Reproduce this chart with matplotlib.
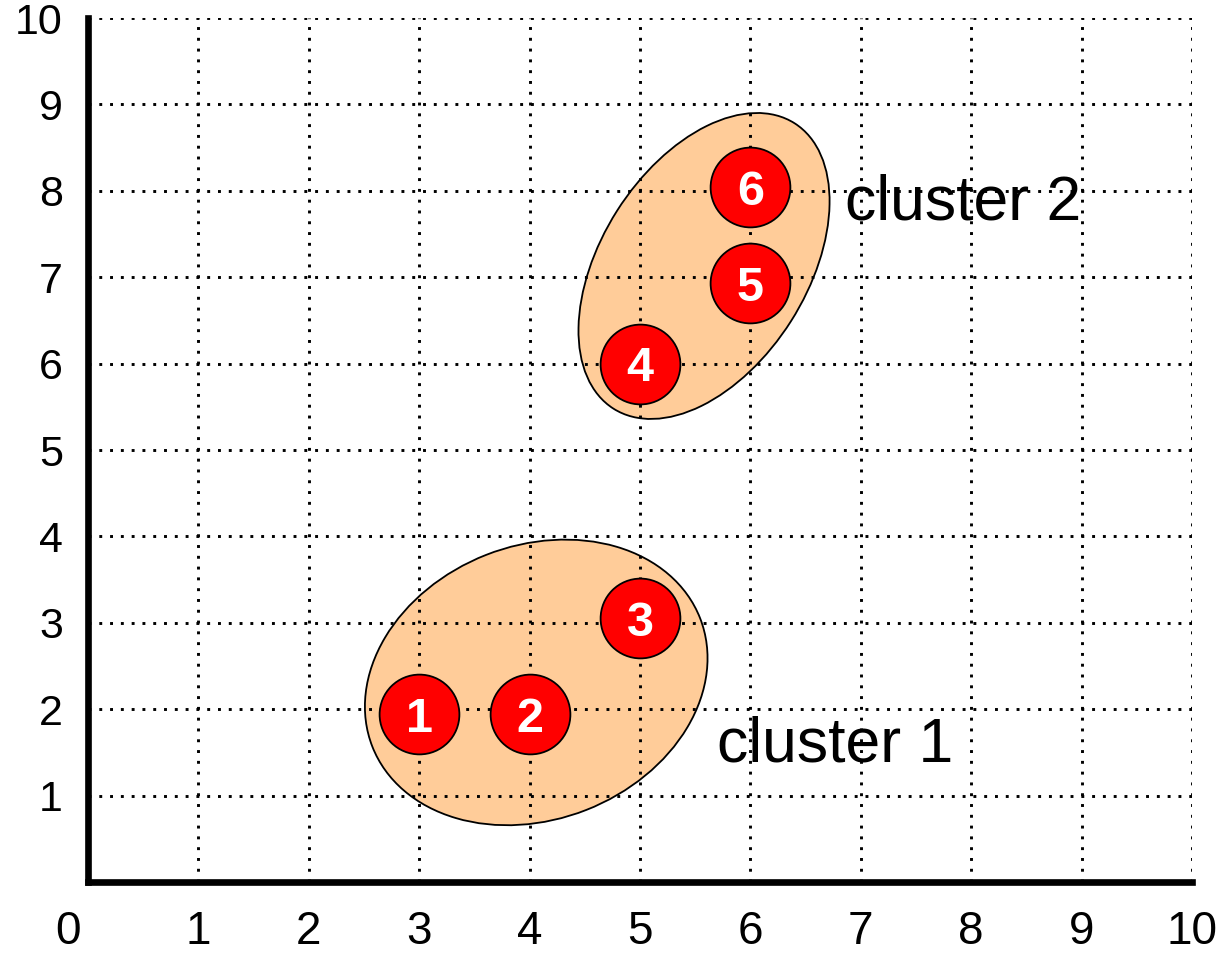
import matplotlib
matplotlib.use("Agg")
import matplotlib.pyplot as plt
from matplotlib.patches import Ellipse
from matplotlib.transforms import Affine2D, ScaledTranslation

plt.rcParams['font.family'] = ['Liberation Sans', 'DejaVu Sans']

# data points
point_ids = ['1', '2', '3', '4', '5', '6']
x_vals = [3, 4, 5, 5, 6, 6]
y_vals = [1.94, 1.94, 3.05, 6.0, 6.93, 8.04]

# clusters
cluster_names = ['cluster 1', 'cluster 2']
cluster_label_pos = [(5.70, 1.39), (6.86, 7.67)]
ellipse_centers = [(4.06, 2.31), (5.58, 7.13)]
ellipse_axes_px = [(176, 137), (169, 103)]   # semi axes in pixels
ellipse_angles = [21.4, 57.6]

ticks = list(range(11))
x_tick_labels = [str(t) for t in ticks]
y_tick_labels = [''] + [str(t) for t in ticks[1:]]

fig = plt.figure(figsize=(12.31, 9.59), dpi=100)
ax = fig.add_axes([88 / 1231, 77 / 959, 1104 / 1231, 864 / 959])
ax.set_xlim(0, 10)
ax.set_ylim(0, 10)

px_x = 1104 / 10
px_y = 864 / 10

for (cx, cy), (a, b), ang in zip(ellipse_centers, ellipse_axes_px, ellipse_angles):
    tr = Affine2D().rotate_deg(ang).scale(1 / px_x, 1 / px_y).translate(cx, cy) + ax.transData
    e = Ellipse((0, 0), 2 * a, 2 * b, facecolor='#FFCC99', edgecolor='black',
                linewidth=1.3, transform=tr, zorder=0.5)
    ax.add_patch(e)

ax.scatter(x_vals, y_vals, s=3300, c='#FF0000', edgecolors='black', linewidths=1.3, zorder=3)
for pid, x, y in zip(point_ids, x_vals, y_vals):
    ax.text(x, y, pid, color='white', fontsize=35, fontweight='bold',
            ha='center', va='center_baseline', zorder=4)

for name, (tx, ty) in zip(cluster_names, cluster_label_pos):
    ax.text(tx, ty, name, fontsize=45, ha='left', va='baseline', zorder=4)

ax.set_xticks(ticks)
ax.set_yticks(ticks)
ax.set_xticklabels(x_tick_labels)
ax.set_yticklabels(y_tick_labels)
ax.tick_params(length=0)
ax.tick_params(axis='x', pad=20, labelsize=33)
ax.tick_params(axis='y', pad=18, labelsize=31)
# the "0" sits left of the corner in the original
ax.get_xticklabels()[0].set_transform(ax.get_xticklabels()[0].get_transform() +
                                      ScaledTranslation(-20 / 100, 0, fig.dpi_scale_trans))

ax.grid(True, color='black', linestyle=(0, (1, 2.7)), linewidth=2.1, zorder=1)

for side in ['top', 'right']:
    ax.spines[side].set_visible(False)
for side in ['left', 'bottom']:
    ax.spines[side].set_linewidth(4.8)
    ax.spines[side].set_capstyle('projecting')
    ax.spines[side].set_zorder(5)

fig.savefig('out.png', dpi=100, facecolor='white')
